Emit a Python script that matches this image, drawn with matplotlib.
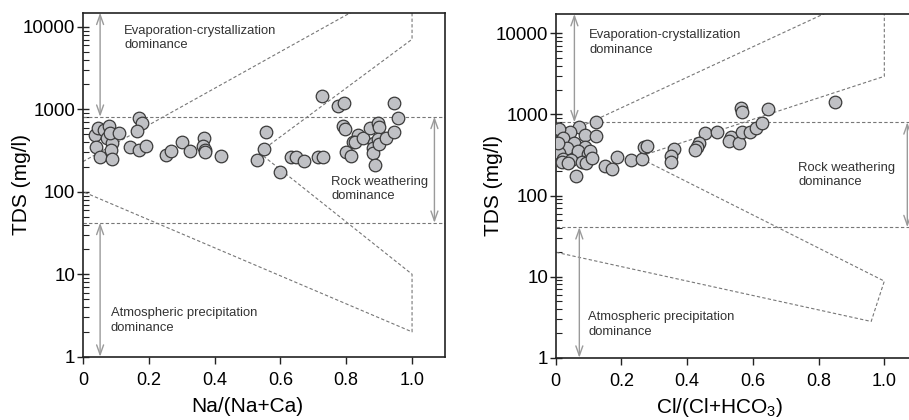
import matplotlib

matplotlib.use("Agg")
import matplotlib.pyplot as plt
import numpy as np

plt.rcParams["font.family"] = ["Liberation Sans", "DejaVu Sans"]
plt.rcParams["mathtext.default"] = "regular"

# Na/(Na+Ca) vs TDS
na_ratio = [0.036, 0.046, 0.063, 0.078, 0.073, 0.089, 0.081, 0.110, 0.040, 0.053,
            0.084, 0.087, 0.169, 0.180, 0.165, 0.142, 0.169, 0.191, 0.252, 0.267,
            0.302, 0.326, 0.369, 0.365, 0.370, 0.371, 0.420, 0.528, 0.549, 0.557,
            0.599, 0.632, 0.647, 0.673, 0.713, 0.728, 0.725, 0.775, 0.792, 0.790,
            0.796, 0.836, 0.820, 0.828, 0.851, 0.800, 0.814, 0.873, 0.897, 0.901,
            0.883, 0.881, 0.881, 0.886, 0.897, 0.901, 0.921, 0.944, 0.944, 0.956]
tds_na = [489, 589, 562, 634, 446, 388, 513, 513, 348, 267,
          322, 248, 785, 689, 551, 348, 322, 360, 280, 313,
          405, 313, 446, 363, 322, 307, 272, 244, 328, 535,
          175, 260, 260, 237, 263, 260, 1449, 1096, 1202, 634,
          573, 489, 405, 405, 446, 307, 272, 600, 689, 606,
          388, 338, 294, 212, 434, 377, 446, 535, 1202, 778]

# Cl/(Cl+HCO3) vs TDS
cl_ratio = [0.122, 0.071, 0.043, 0.010, 0.090, 0.122, 0.022, 0.056, 0.034, 0.090,
            0.068, 0.098, 0.010, 0.022, 0.047, 0.081, 0.093, 0.019, 0.061, 0.007,
            0.104, 0.037, 0.110, 0.149, 0.171, 0.187, 0.230, 0.262, 0.268, 0.278,
            0.361, 0.350, 0.350, 0.454, 0.437, 0.429, 0.424, 0.490, 0.533, 0.527,
            0.558, 0.566, 0.591, 0.610, 0.627, 0.563, 0.568, 0.645, 0.850]
tds_cl = [813, 705, 601, 655, 557, 542, 507, 440, 382, 400,
          357, 325, 337, 279, 274, 261, 250, 261, 175, 440,
          354, 250, 290, 231, 211, 298, 272, 284, 400, 408,
          374, 307, 261, 585, 448, 400, 364, 601, 531, 474,
          448, 612, 601, 674, 776, 1189, 1062, 1167, 1409]

# Gibbs boundary curves
na_upper_x = [0.0, 0.9]
na_upper_y = [232, 23100]
na_outline_x = [1.0, 1.0, 0.535, 1.0, 1.0, 0.0]
na_outline_y = [20000, 7050, 298, 10, 2, 100]

cl_upper_x = [0.0, 0.9]
cl_upper_y = [508, 25000]
cl_outline_x = [1.0, 1.0, 0.25, 1.0, 0.96, 0.0]
cl_outline_y = [25000, 2950, 298, 8.8, 2.8, 20]

# dominance zone limits
na_limits = [810, 42]
cl_limits = [800, 40.7]

DASH = dict(color="#777777", lw=0.8, linestyle=(0, (3, 2)))
ARROW = dict(arrowstyle="<->,head_length=0.7,head_width=0.25", color="#9a9a9a", lw=1.0,
             shrinkA=0, shrinkB=0)
TXT = dict(fontsize=9.4, color="#333333", va="center", ha="left", linespacing=1.25)


def draw_panel(ax, xs, ys, upper_x, upper_y, outline_x, outline_y, limits, ytop,
               xlabel, xlabel_y, arrows_x, text_pos):
    ax.set_yscale("log")
    ax.set_xlim(0, 1.1)
    ax.set_ylim(1, ytop)

    ax.plot(upper_x, upper_y, **DASH)
    ax.plot(outline_x, outline_y, **DASH)
    for lim in limits:
        ax.axhline(lim, **DASH)

    evap_x, rock_x, atm_x = arrows_x
    ax.annotate("", xy=(evap_x, limits[0]), xytext=(evap_x, ytop), arrowprops=ARROW)
    ax.annotate("", xy=(rock_x, limits[1]), xytext=(rock_x, limits[0]), arrowprops=ARROW)
    ax.annotate("", xy=(atm_x, 1), xytext=(atm_x, limits[1]), arrowprops=ARROW)

    (ex, ey), (rx, ry), (ax_, ay) = text_pos
    ax.text(ex, ey, "Evaporation-crystallization\ndominance", **TXT)
    ax.text(rx, ry, "Rock weathering\ndominance", **TXT)
    ax.text(ax_, ay, "Atmospheric precipitation\ndominance", **TXT)

    ax.scatter(xs, ys, s=82, facecolor="#c0c1c5", edgecolor="#3a3a3a", linewidth=0.9,
               zorder=5)

    ax.set_xticks([0, 0.2, 0.4, 0.6, 0.8, 1.0])
    ax.set_xticklabels(["0", "0.2", "0.4", "0.6", "0.8", "1.0"])
    ax.set_yticks([1, 10, 100, 1000, 10000])
    ax.set_yticklabels(["1", "10", "100", "1000", "10000"])
    ax.yaxis.set_minor_locator(matplotlib.ticker.LogLocator(base=10, subs=np.arange(2, 10)))
    ax.yaxis.set_minor_formatter(matplotlib.ticker.NullFormatter())
    ax.tick_params(axis="x", which="major", direction="out", length=5, width=1.0,
                   labelsize=13, pad=6, color="#222222")
    ax.tick_params(axis="y", which="major", direction="inout", length=9, width=1.0,
                   labelsize=13.5, pad=1, color="#222222")
    ax.tick_params(axis="y", which="minor", direction="in", length=4, width=0.8,
                   color="#222222")
    for sp in ax.spines.values():
        sp.set_linewidth(1.2)
        sp.set_color("#222222")

    ax.set_xlabel(xlabel, fontsize=15)
    ax.set_ylabel("TDS (mg/l)", fontsize=15)
    ax.xaxis.set_label_coords(0.5 / 1.1, xlabel_y)
    ax.yaxis.set_label_coords(-0.145, 0.5)


fig = plt.figure(figsize=(9.09, 4.2), dpi=100)
ax1 = fig.add_axes([0.0913, 0.1507, 0.3982, 0.819])
ax2 = fig.add_axes([0.6113, 0.1483, 0.3977, 0.8183])

draw_panel(ax1, na_ratio, tds_na, na_upper_x, na_upper_y, na_outline_x, na_outline_y,
           na_limits, 14790, "Na/(Na+Ca)", -0.118, (0.052, 1.068, 0.052),
           ((0.125, 7330), (0.754, 107), (0.085, 2.75)))
draw_panel(ax2, cl_ratio, tds_cl, cl_upper_x, cl_upper_y, cl_outline_x, cl_outline_y,
           cl_limits, 17300, "Cl/(Cl+HCO$_3$)", -0.112, (0.057, 1.07, 0.072),
           ((0.102, 7700), (0.738, 179), (0.099, 2.56)))

fig.savefig("out.png", dpi=100)
